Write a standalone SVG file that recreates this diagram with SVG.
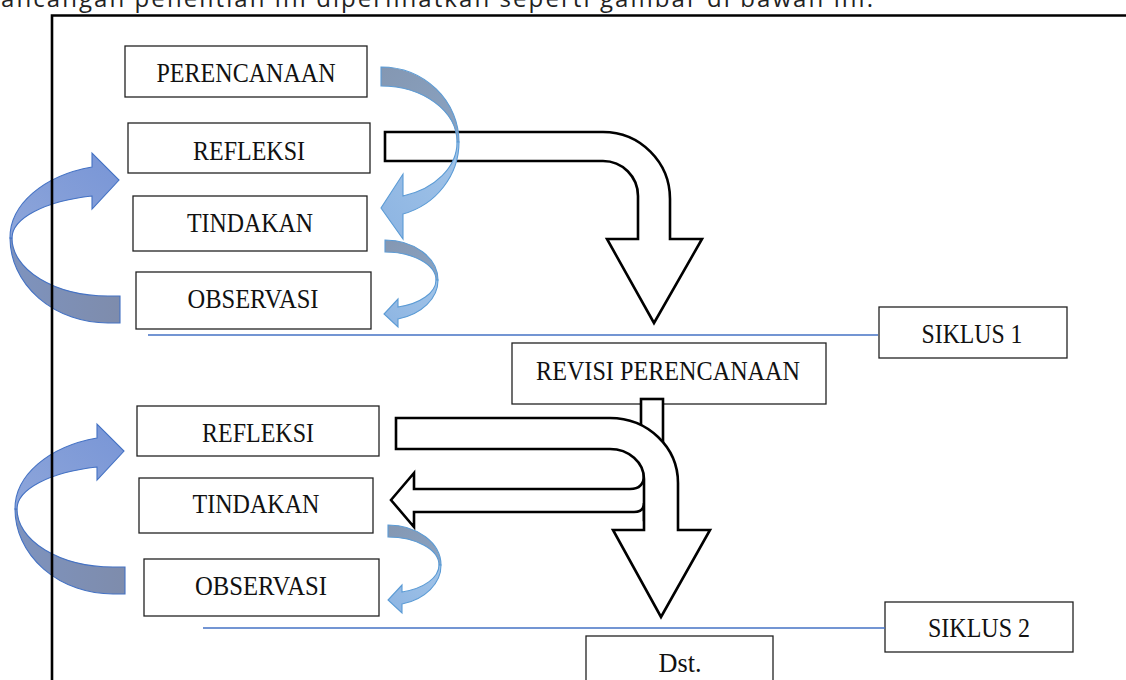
<svg xmlns="http://www.w3.org/2000/svg" width="1126" height="680" viewBox="0 0 1126 680">
<style>
.box{fill:#fff;stroke:#222;stroke-width:1.3}
.lbl{font-family:"Liberation Serif","Times New Roman",serif;font-size:27px;fill:#111;text-anchor:middle}
.title{font-family:"Open Sans","DejaVu Sans",sans-serif;font-size:24px;fill:#222}
.bent{fill:#fff;stroke:#000;stroke-width:2.6;stroke-linejoin:miter}
.sep{fill:none;stroke:#4472C4;stroke-width:1.3}
.lb{fill:url(#gLB);stroke:#4472C4;stroke-width:1.1}
.lf{fill:url(#gLF);stroke:#4472C4;stroke-width:1.1}
.rb{fill:url(#gRB);stroke:#5B9BD5;stroke-width:1.1}
.rf{fill:url(#gRF);stroke:#5B9BD5;stroke-width:1.1}
.frame{fill:none;stroke:#000;stroke-width:2.6}
</style>
<defs>
<linearGradient id="gLB" x1="0" y1="0" x2="1" y2="0"><stop offset="0" stop-color="#7E93BE"/><stop offset="1" stop-color="#7E8CAC"/></linearGradient>
<linearGradient id="gLF" x1="0" y1="1" x2="1" y2="0"><stop offset="0" stop-color="#8EA6DA"/><stop offset="1" stop-color="#7895D6"/></linearGradient>
<linearGradient id="gRB" x1="0" y1="0" x2="1" y2="1"><stop offset="0" stop-color="#8497B2"/><stop offset="1" stop-color="#8AA3C2"/></linearGradient>
<linearGradient id="gRF" x1="1" y1="0" x2="0" y2="1"><stop offset="0" stop-color="#A2C4E8"/><stop offset="1" stop-color="#8CB4E2"/></linearGradient>
</defs>

<text class="title" x="1" y="6.5" textLength="872" lengthAdjust="spacing">ancangan penelitian ini diperlihatkan seperti gambar di bawah ini.</text>

<g id="n-perencanaan"><rect class="box" x="125" y="46" width="242" height="51"/><text class="lbl" x="246" y="82" textLength="179" lengthAdjust="spacingAndGlyphs">PERENCANAAN</text></g>
<g id="n-refleksi1"><rect class="box" x="128" y="123" width="242" height="50"/><text class="lbl" x="249" y="160" textLength="112" lengthAdjust="spacingAndGlyphs">REFLEKSI</text></g>
<g id="n-tindakan1"><rect class="box" x="133" y="196" width="234" height="55"/><text class="lbl" x="250" y="232" textLength="126" lengthAdjust="spacingAndGlyphs">TINDAKAN</text></g>
<g id="n-observasi1"><rect class="box" x="136" y="272" width="235" height="57"/><text class="lbl" x="253" y="308" textLength="131" lengthAdjust="spacingAndGlyphs">OBSERVASI</text></g>
<g id="n-siklus1"><rect class="box" x="879" y="307" width="188" height="51"/><text class="lbl" x="972" y="343" textLength="101" lengthAdjust="spacingAndGlyphs">SIKLUS 1</text></g>
<g id="n-revisi"><rect class="box" x="512" y="343" width="314" height="61"/><text class="lbl" x="668" y="380" textLength="264" lengthAdjust="spacingAndGlyphs">REVISI PERENCANAAN</text></g>
<g id="n-refleksi2"><rect class="box" x="137" y="406" width="242" height="50"/><text class="lbl" x="258" y="442" textLength="112" lengthAdjust="spacingAndGlyphs">REFLEKSI</text></g>
<g id="n-tindakan2"><rect class="box" x="139" y="478" width="234" height="55"/><text class="lbl" x="256" y="513" textLength="127" lengthAdjust="spacingAndGlyphs">TINDAKAN</text></g>
<g id="n-observasi2"><rect class="box" x="144" y="559" width="235" height="57"/><text class="lbl" x="261" y="595" textLength="132" lengthAdjust="spacingAndGlyphs">OBSERVASI</text></g>
<g id="n-siklus2"><rect class="box" x="885" y="602" width="188" height="50"/><text class="lbl" x="979" y="637" textLength="102" lengthAdjust="spacingAndGlyphs">SIKLUS 2</text></g>
<g id="n-dst"><rect class="box" x="586" y="636" width="187" height="60"/><text class="lbl" x="680" y="672" textLength="43" lengthAdjust="spacingAndGlyphs">Dst.</text></g>

<g id="connectors">
  <path class="sep" d="M148,335 H878"/>
  <path class="sep" d="M203,628 H885"/>
  <!-- cycle 1 bent arrow -->
  <path class="bent" d="M385,132 H603 A67,67 0 0 1 670,199 V239 H702 L654,323 L607,239 H638 V196 A35,35 0 0 0 603,161 H385 Z"/>
  <!-- cycle 2 stub from revisi -->
  <rect class="bent" x="641" y="399" width="22" height="60"/>
  <!-- cycle 2 left arrow -->
  <path class="bent" d="M391,500 L414,473 V489 H630 Q644,489 644,475 H660 V520 H644 V503 Q644,512 634,512 H414 V527 Z"/>
  <!-- cycle 2 bent arrow -->
  <path class="bent" d="M396,418 H610 A68,65 0 0 1 678,483 V530 H710 L661,617 L613,530 H644 V479 A34,30 0 0 0 610,449 H396 Z"/>

  <!-- cycle 1 right curved arrows -->
  <path class="rb" d="M381,67 A78,75 0 0 1 459,142 L457,142 A76,56 0 0 0 381,86 Z"/>
  <path class="rf" d="M459,142 A78,75 0 0 1 403,214 L403,239 L381,208 L403,174 L403,196 A76,56 0 0 0 457,142 Z"/>
  <path class="rb" d="M385,240 A53,40 0 0 1 438,280 L436,280 A51,28 0 0 0 385,252 Z"/>
  <path class="rf" d="M438,280 A53,40 0 0 1 398,319 L398,327 L384,314 L398,299 L398,307 A51,28 0 0 0 436,280 Z"/>
  <!-- cycle 2 right curved arrow -->
  <path class="rb" d="M388,525 A53,40 0 0 1 441,565 L439,565 A51,28 0 0 0 388,537 Z"/>
  <path class="rf" d="M441,565 A53,40 0 0 1 402,604 L402,613 L388,600 L402,585 L402,592 A51,28 0 0 0 439,565 Z"/>
  <!-- cycle 1 left curved arrow -->
  <path class="lb" d="M10,238 A98,85 0 0 0 108,323 L120,323 L120,296 L108,296 A96,58 0 0 1 12,238 Z"/>
  <path class="lf" d="M10,238 A110,73 0 0 1 92,167 L92,153 L119,180 L92,209 L92,196 A108,43.5 0 0 0 12,238 Z"/>
  <!-- cycle 2 left curved arrow -->
  <g transform="translate(5,271)">
    <path class="lb" d="M10,238 A98,85 0 0 0 108,323 L120,323 L120,296 L108,296 A96,58 0 0 1 12,238 Z"/>
    <path class="lf" d="M10,238 A110,73 0 0 1 92,167 L92,153 L119,180 L92,209 L92,196 A108,43.5 0 0 0 12,238 Z"/>
  </g>
</g>

<g id="frame"><path class="frame" d="M52,680 V15.5 H1126"/></g>
</svg>
